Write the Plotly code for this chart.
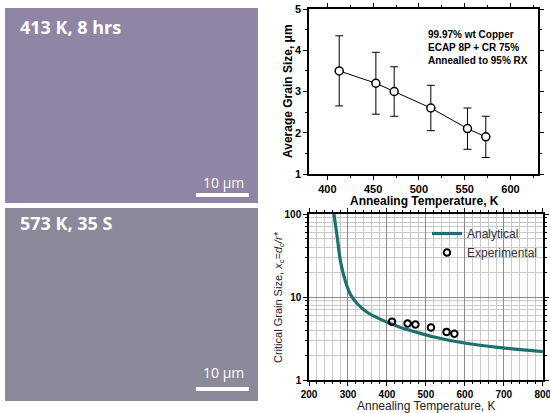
import plotly.graph_objects as go

# top panel: mean grain size vs annealing temperature
temp_k = [413, 453, 473, 513, 553, 573]
grain_um = [3.5, 3.2, 3.0, 2.6, 2.1, 1.9]
grain_err = [0.85, 0.75, 0.6, 0.55, 0.5, 0.5]

# bottom panel: critical grain size (log scale)
analytic_t = [262, 264, 273, 281, 294, 307, 324, 350, 376, 410, 435, 461, 521, 606, 692, 800]
analytic_x = [115, 100, 50, 26.5, 15.2, 10.6, 8.3, 6.5, 5.6, 4.75, 4.3, 3.95, 3.3, 2.75, 2.45, 2.2]
exp_t = [413, 453, 473, 513, 553, 573]
exp_x = [5.05, 4.8, 4.65, 4.3, 3.8, 3.6]

micro_labels = ["413 K, 8 hrs", "573 K, 35 S"]
scale_label = "10 μm"

W, H = 550, 413
ARIAL = "Arial, Liberation Sans, sans-serif"


def px_x(p):
    return p / W


def px_y(p):
    return 1 - p / H


fig = go.Figure()

fig.add_trace(go.Scatter(
    x=temp_k, y=grain_um,
    mode="lines+markers",
    line=dict(color="black", width=1),
    marker=dict(symbol="circle", size=8, color="white",
                line=dict(color="black", width=1.5)),
    error_y=dict(type="data", array=grain_err, color="black",
                 thickness=1, width=4),
    xaxis="x", yaxis="y", showlegend=False,
))

fig.add_trace(go.Scatter(
    x=analytic_t, y=analytic_x,
    mode="lines", name="Analytical",
    line=dict(color="#1d7070", width=3.2, shape="spline"),
    xaxis="x2", yaxis="y2",
))
fig.add_trace(go.Scatter(
    x=exp_t, y=exp_x,
    mode="markers", name="Experimental",
    marker=dict(symbol="circle-open", size=6.5, color="black",
                line=dict(width=2)),
    xaxis="x2", yaxis="y2",
))

axis_common = dict(
    showline=True, linecolor="black", linewidth=1.5, mirror="ticks",
    ticks="outside", tickcolor="black", ticklen=4, zeroline=False,
    automargin=False, ticklabeloverflow="allow",
)
bold = dict(family=ARIAL, size=11, color="black", weight="bold")
bold_small = dict(family=ARIAL, size=10, color="black", weight="bold")

fig.update_layout(
    width=W, height=H,
    margin=dict(l=0, r=0, t=0, b=0, pad=0),
    paper_bgcolor="white", plot_bgcolor="white",
    font=dict(family=ARIAL, color="black"),
    xaxis=dict(
        domain=[px_x(309), px_x(538)], anchor="y",
        range=[380, 630], tickvals=[400, 450, 500, 550, 600],
        tickfont=bold, showgrid=False,
        minor=dict(dtick=25, ticks="outside", ticklen=2, tickcolor="black"),
        **axis_common,
    ),
    yaxis=dict(
        domain=[px_y(174), px_y(9)], anchor="x",
        range=[1, 5], dtick=1, tickfont=bold, showgrid=False,
        minor=dict(dtick=0.5, ticks="outside", ticklen=2, tickcolor="black"),
        **axis_common,
    ),
    xaxis2=dict(
        domain=[px_x(309), px_x(543)], anchor="y2",
        range=[200, 800.5], tickvals=[200, 300, 400, 500, 600, 700, 800],
        tickfont=bold_small,
        showgrid=True, gridcolor="#8c8c8c", gridwidth=1,
        minor=dict(dtick=20, ticks="outside", ticklen=2, tickcolor="black",
                   showgrid=True, gridcolor="#c9c9c9", gridwidth=1),
        **axis_common,
    ),
    yaxis2=dict(
        domain=[px_y(380), px_y(214)], anchor="x2",
        type="log", range=[0, 2], tickvals=[1, 10, 100],
        tickfont=bold_small,
        showgrid=True, gridcolor="#8c8c8c", gridwidth=1,
        minor=dict(tickvals=[2, 3, 4, 5, 6, 7, 8, 9,
                             20, 30, 40, 50, 60, 70, 80, 90],
                   ticks="outside", ticklen=2, tickcolor="black",
                   showgrid=True, gridcolor="#c9c9c9", gridwidth=1),
        **axis_common,
    ),
    legend=dict(
        x=px_x(427), y=px_y(219), xanchor="left", yanchor="top",
        bgcolor="rgba(0,0,0,0)", tracegroupgap=0, itemwidth=30,
        font=dict(family=ARIAL, size=12, color="#333"),
    ),
)

# axis titles
titles = [
    (px_x(424), px_y(201), 0, "Annealing Temperature, K", True, 12),
    (px_x(288), px_y(91), -90, "Average Grain Size, μm", True, 12),
    (px_x(426), px_y(406), 0, "Annealing Temperature, K", False, 12),
    (px_x(279), px_y(297), -90,
     "Critical Grain Size, <i>x<sub>c</sub>=d<sub>c</sub>/r*</i>", False, 11),
]
for tx, ty, ang, txt, is_bold, fs in titles:
    fig.add_annotation(
        xref="paper", yref="paper", x=tx, y=ty, textangle=ang,
        xanchor="center", yanchor="middle", showarrow=False, text=txt,
        font=dict(family=ARIAL, size=fs, color="black" if is_bold else "#222",
                  weight="bold" if is_bold else "normal"),
    )

# note in the top panel
fig.add_annotation(
    xref="paper", yref="paper", x=px_x(426), y=px_y(27),
    xanchor="left", yanchor="top", align="left", showarrow=False,
    text="99.97% wt Copper<br>ECAP 8P + CR 75%<br>Annealled to 95% RX",
    font=dict(family=ARIAL, size=10, color="black", weight="bold"),
)

# EBSD micrograph panels (shown as flat tiles)
tiles = [(8, 203, "#8f85a4", 27, 193, 183), (208, 401, "#8c899a", 223, 387, 372)]
for (top, bot, col, ly, bar_y, txt_y), lab in zip(tiles, micro_labels):
    fig.add_shape(type="rect", xref="paper", yref="paper",
                  x0=px_x(5), x1=px_x(258), y0=px_y(bot), y1=px_y(top),
                  fillcolor=col, line=dict(width=0), layer="below")
    fig.add_annotation(xref="paper", yref="paper", x=px_x(18), y=px_y(ly),
                       xanchor="left", yanchor="middle", showarrow=False,
                       text=lab,
                       font=dict(family="Open Sans", size=18, color="white",
                                 weight="bold"))
    fig.add_shape(type="rect", xref="paper", yref="paper",
                  x0=px_x(196), x1=px_x(249), y0=px_y(bar_y + 4), y1=px_y(bar_y),
                  fillcolor="white", line=dict(width=0))
    fig.add_annotation(xref="paper", yref="paper", x=px_x(223), y=px_y(txt_y),
                       xanchor="center", yanchor="middle", showarrow=False,
                       text=scale_label,
                       font=dict(family="Open Sans", size=14, color="white"))

# the page's default body margin would push the fixed-size figure off the window
fig.write_html("out.html", config={"displayModeBar": False},
               post_script="document.body.style.margin = '0px';")
